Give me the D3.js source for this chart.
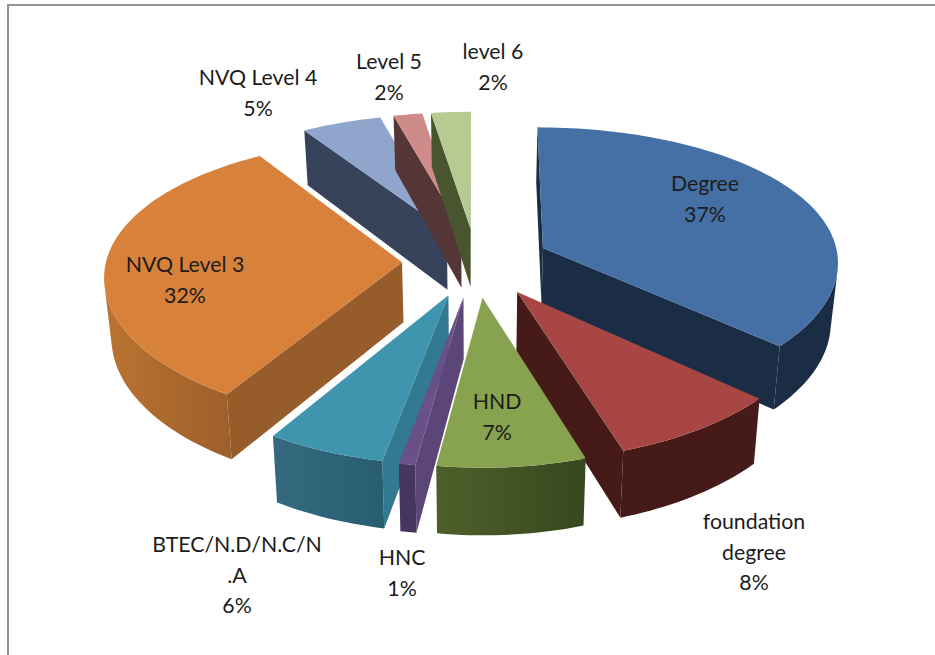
<!DOCTYPE html>
<html>
<head>
<meta charset="utf-8">
<script src="https://cdn.jsdelivr.net/npm/d3@7"></script>
<style>
html,body{margin:0;padding:0;background:#fff;}
svg{display:block;}
text{font-family:Lato,"Open Sans",sans-serif;font-size:21.3px;fill:#1c1c1c;text-anchor:middle;}
</style>
</head>
<body>
<svg width="935" height="655"></svg>
<script>
// data, the labels show these rounded
var categories = ['Degree', 'foundation degree', 'HND', 'HNC', 'BTEC/N.D/N.C/N.A', 'NVQ Level 3', 'NVQ Level 4', 'Level 5', 'level 6'];
var shares = [36.6, 8.4, 7.25, 0.8, 5.8, 32.15, 4.85, 1.75, 2.4];
var labelLines = [['Degree'], ['foundation', 'degree'], ['HND'], ['HNC'], ['BTEC/N.D/N.C/N', '.A'], ['NVQ Level 3'], ['NVQ Level 4'], ['Level 5'], ['level 6']];

// styles, same order as categories
var topColors = ['#4470a5', '#a84644', '#87a34f', '#6a5088', '#3f95ad', '#d8813a', '#8fa5cc', '#cd8b8a', '#b6cb91'];
var sideColors = ['#1a2d45', '#451a18', '#3f4f22', '#5c4678', '#33798f', '#965c29', '#37435a', '#543636', '#48552f'];
var arcFrom = ['#1a2d45', '#451a18', '#4f5f2b', '#48355f', '#35697f', '#bb7331', '#37435a', '#543636', '#48552f'];
var arcTo = ['#1a2d45', '#451a18', '#37471e', '#48355f', '#285e70', '#9d5f2a', '#37435a', '#543636', '#48552f'];
// paint order, back slices first
var paintOrder = [6, 7, 8, 0, 5, 1, 4, 3, 2];
// where the label blocks sit, centre x and centre y of the first line
var labelAt = [[705, 184], [754, 522], [497, 402], [402, 558], [237, 545], [185, 265], [258, 78], [389, 62], [493, 52]];

var explode = 0.25;
var persp_x = 0.09;
var persp_y = 0.125;
var wallDepth = 60;
var wallPinch = 0.98;

var scale_x = d3.scaleLinear().domain([-1, 1]).range([-296, 296]);
var scale_y = d3.scaleLinear().domain([-1, 1]).range([-139, 139]);
var center = [476, 262];

var svg = d3.select('svg');
var defs = svg.append('defs');
var line = d3.line();

// u to the right, v towards the viewer, both in pie radii
function project(u, v, low)
{
	var sx = 1 / (1 - persp_x * v);
	var sy = 1 / (1 - persp_y * v);
	var x = scale_x(u) * sx;
	var y = scale_y(v) * sy;
	if(low) return [center[0] + x * wallPinch, center[1] + y + wallDepth * sx];
	return [center[0] + x, center[1] + y];
}
function polar(a, r, ox, oy)
{
	return [ox + r * Math.sin(a), oy - r * Math.cos(a)];
}
// d3.polygonArea comes out positive for the walls turned to the viewer
function facing(p, q, low_p, low_q)
{
	return d3.polygonArea([p, q, low_q, low_p]) > 0;
}

// frame, only top and left are in the picture
svg.append('path').attr('d', line([[8, 655], [8, 5], [935, 5]]))
	.attr('fill', 'none').attr('stroke', '#939393').attr('stroke-width', 2);

var arcs = d3.pie().sort(null).value(function(d){ return d; })(shares);

paintOrder.forEach(function(i){
	var d = arcs[i];
	var mid = (d.startAngle + d.endAngle) / 2;
	var ox = explode * Math.sin(mid), oy = -explode * Math.cos(mid);
	var g = svg.append('g').attr('class', 'slice').attr('data-name', categories[i]);

	// rim points along the arc
	var n = Math.max(6, Math.round((d.endAngle - d.startAngle) * 40));
	var rim = d3.range(n + 1).map(function(k){
		var a = d.startAngle + (d.endAngle - d.startAngle) * k / n;
		return polar(a, 1, ox, oy);
	});
	var top_rim = rim.map(function(p){ return project(p[0], p[1], false); });
	var low_rim = rim.map(function(p){ return project(p[0], p[1], true); });
	var apex = project(ox, oy, false);
	var low_apex = project(ox, oy, true);

	// radial walls
	if(facing(apex, top_rim[0], low_apex, low_rim[0]))
		g.append('path').attr('d', line([apex, top_rim[0], low_rim[0], low_apex]) + 'Z').attr('fill', sideColors[i]);
	if(facing(top_rim[n], apex, low_rim[n], low_apex))
		g.append('path').attr('d', line([top_rim[n], apex, low_apex, low_rim[n]]) + 'Z').attr('fill', sideColors[i]);

	// outer wall, only the part turned to the viewer
	var up = [], down = [];
	for(var k = 0; k < n; k++){
		if(facing(top_rim[k], top_rim[k + 1], low_rim[k], low_rim[k + 1])){
			if(up.length == 0){ up.push(top_rim[k]); down.push(low_rim[k]); }
			up.push(top_rim[k + 1]);
			down.push(low_rim[k + 1]);
		}
	}
	if(up.length > 0){
		var grad = defs.append('linearGradient').attr('id', 'wall_' + i);
		grad.append('stop').attr('offset', 0).attr('stop-color', arcFrom[i]);
		grad.append('stop').attr('offset', 1).attr('stop-color', arcTo[i]);
		g.append('path').attr('d', line(up.concat(down.reverse())) + 'Z').attr('fill', 'url(#wall_' + i + ')');
	}

	// top face
	g.append('path').attr('d', line([apex].concat(top_rim)) + 'Z').attr('fill', topColors[i]);
});

// labels on top of everything
labelLines.forEach(function(lines, i){
	var t = svg.append('text').attr('x', labelAt[i][0]).attr('y', labelAt[i][1] + 7);
	lines.concat([Math.round(shares[i]) + '%']).forEach(function(s, k){
		t.append('tspan').attr('x', labelAt[i][0]).attr('dy', k == 0 ? 0 : 30.5).text(s);
	});
});
</script>
</body>
</html>
